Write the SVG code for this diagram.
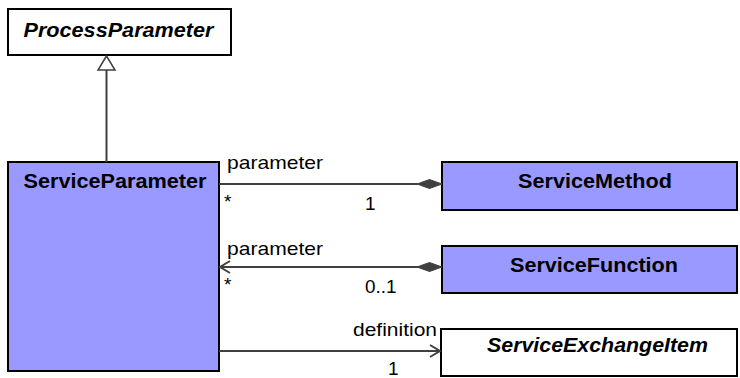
<svg xmlns="http://www.w3.org/2000/svg" width="740" height="378" viewBox="0 0 740 378">
<style>
.box{stroke:#000;stroke-width:2}
.cls{fill:#9999ff}
.abs{fill:#fff}
.name{font-family:"Liberation Sans",Arial,sans-serif;font-size:20px;font-weight:bold;fill:#000}
.it{font-style:italic}
.lbl{font-family:"Liberation Sans",Arial,sans-serif;font-size:19px;fill:#000}
.ln{stroke:#404040;stroke-width:2;fill:none}
.dia{fill:#404040;stroke:#404040;stroke-width:1}
</style>
<rect width="740" height="378" fill="#fff"/>
<g id="ProcessParameter">
<rect class="box abs" x="8" y="9" width="223" height="46"/>
<text class="name it" x="23.5" y="37" textLength="190" lengthAdjust="spacingAndGlyphs">ProcessParameter</text>
</g>
<g id="ServiceParameter">
<rect class="box cls" x="8" y="162" width="211" height="209"/>
<text class="name" x="23.5" y="187.5" textLength="183" lengthAdjust="spacingAndGlyphs">ServiceParameter</text>
</g>
<g id="ServiceMethod">
<rect class="box cls" x="442" y="162" width="295" height="48"/>
<text class="name" x="518" y="187.5" textLength="154" lengthAdjust="spacingAndGlyphs">ServiceMethod</text>
</g>
<g id="ServiceFunction">
<rect class="box cls" x="442" y="246" width="295" height="47"/>
<text class="name" x="510" y="271.5" textLength="168" lengthAdjust="spacingAndGlyphs">ServiceFunction</text>
</g>
<g id="ServiceExchangeItem">
<rect class="box abs" x="441" y="329" width="296" height="47"/>
<text class="name it" x="487" y="352" textLength="221" lengthAdjust="spacingAndGlyphs">ServiceExchangeItem</text>
</g>
<g id="connectors">
<line class="ln" x1="106.5" y1="70" x2="106.5" y2="162"/>
<polygon points="106.5,56 98,70 115,70" fill="#fff" stroke="#404040" stroke-width="1.5"/>
<line class="ln" x1="219" y1="184" x2="418" y2="184"/>
<polygon class="dia" points="417,184 429.5,179.5 442,184 429.5,188.5"/>
<line class="ln" x1="219" y1="267" x2="418" y2="267"/>
<polygon class="dia" points="417,267 429.5,262.5 442,267 429.5,271.5"/>
<polyline class="ln" points="230,261 220,267 230,273"/>
<line class="ln" x1="219" y1="351" x2="440" y2="351"/>
<polyline class="ln" points="430,345 440,351 430,357"/>
<text class="lbl" x="227" y="168.5" textLength="96" lengthAdjust="spacingAndGlyphs">parameter</text>
<text class="lbl" x="224" y="208">*</text>
<text class="lbl" x="365" y="209.5">1</text>
<text class="lbl" x="227" y="255" textLength="96" lengthAdjust="spacingAndGlyphs">parameter</text>
<text class="lbl" x="224" y="291">*</text>
<text class="lbl" x="365" y="293" textLength="31.5" lengthAdjust="spacingAndGlyphs">0..1</text>
<text class="lbl" x="353" y="336" textLength="84" lengthAdjust="spacingAndGlyphs">definition</text>
<text class="lbl" x="388" y="375">1</text>
</g>
</svg>
